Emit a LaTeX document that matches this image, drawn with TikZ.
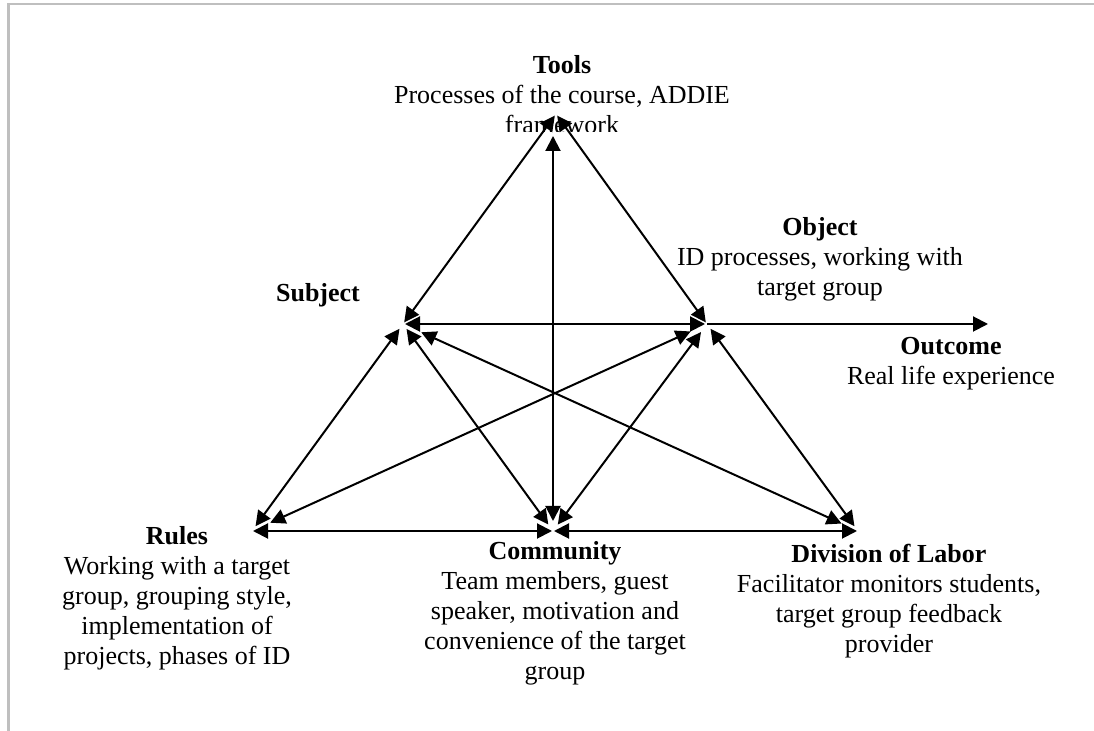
\documentclass[tikz,border=0pt]{standalone}
\usepackage{fontspec}
\setmainfont{Liberation Serif}
\usetikzlibrary{arrows.meta}
\begin{document}
\begin{tikzpicture}[x=0.5pt,y=-0.5pt,
  tip/.tip={Triangle[length=7.5pt,width=7.5pt]},
  link/.style={line width=1pt, tip-tip, shorten <=1pt, shorten >=1pt},
  oneway/.style={line width=1pt, -tip},
  lbl/.style={align=center, inner sep=0pt, anchor=base,
    font=\fontsize{13pt}{15pt}\selectfont},
  frameline/.style={draw=black!25, line width=1.1pt}]
\useasboundingbox (0,0) rectangle (1094,731);

% page frame (top and left edges)
\draw[frameline] (8.5,731) -- (8.5,4) -- (1094,4);

% corner points of the activity system
\coordinate (T) at (556,114);
\coordinate (S) at (403,324);
\coordinate (O) at (707,324);
\coordinate (R) at (252,531);
\coordinate (C) at (553,531);
\coordinate (D) at (858,531);
\coordinate (X) at (988,324);
\coordinate (Ctop) at (553,114);

% labels (anchored at the baseline of their last line)
\begin{scope}
  \clip (300,0) rectangle (820,132);
  \node[lbl] (tools) at (562,134) {\textbf{Tools}\\Processes of the course, ADDIE\\framework};
\end{scope}
\node[lbl] (subject) at (318,302) {\textbf{Subject}};
\node[lbl] (object) at (820,296) {\textbf{Object}\\ID processes, working with\\target group};
\node[lbl] (outcome) at (951,385) {\textbf{Outcome}\\Real life experience};
\node[lbl] (rules) at (177,665) {\textbf{Rules}\\Working with a target\\group, grouping style,\\implementation of\\projects, phases of ID};
\node[lbl] (community) at (555,680) {\textbf{Community}\\Team members, guest\\speaker, motivation and\\convenience of the target\\group};
\node[lbl] (division) at (889,653) {\textbf{Division of Labor}\\Facilitator monitors students,\\target group feedback\\provider};

% connectors
\draw[link] (T) -- (S);
\draw[link] (T) -- (O);
\draw[link, shorten <=5pt, shorten >=11pt] (C) -- (Ctop);
\draw[link] (S) -- (O);
\draw[link, shorten <=3pt, shorten >=3pt] (S) -- (R);
\draw[link, shorten <=3pt, shorten >=4pt] (S) -- (C);
\draw[link, shorten <=10pt, shorten >=9pt] (S) -- (D);
\draw[link, shorten <=9pt, shorten >=10pt] (O) -- (R);
\draw[link, shorten <=5pt, shorten >=4pt] (O) -- (C);
\draw[link, shorten <=3pt, shorten >=3pt] (O) -- (D);
\draw[link, shorten <=0.5pt, shorten >=0.5pt] (R) -- (C);
\draw[link, shorten <=0.5pt, shorten >=0.5pt] (C) -- (D);
\draw[oneway] (O) -- (X);
\end{tikzpicture}
\end{document}
